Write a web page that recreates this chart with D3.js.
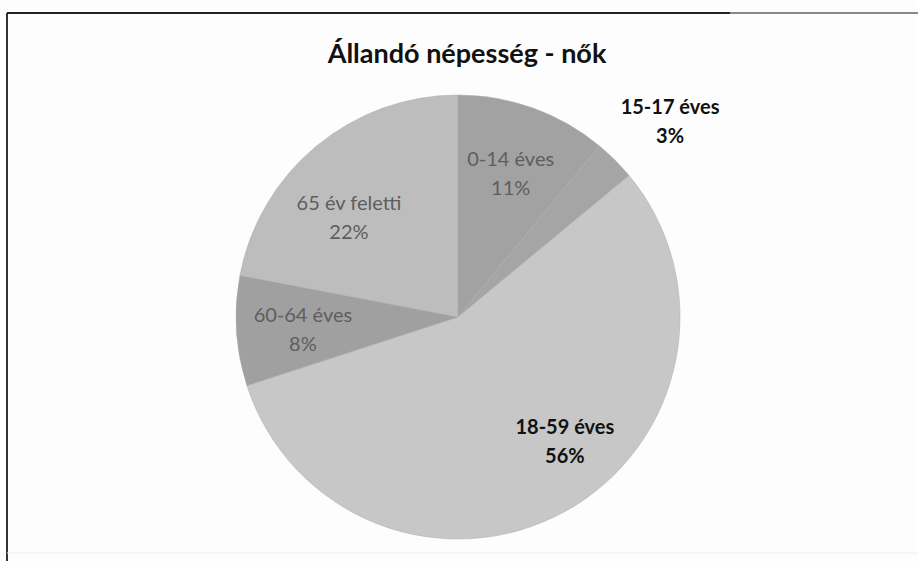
<!DOCTYPE html>
<html>
<head>
<meta charset="utf-8">
<script src="https://cdn.jsdelivr.net/npm/d3@7"></script>
<style>
  body { margin: 0; background: #fdfdfd; }
  svg { display: block; }
</style>
</head>
<body>
<div id="chart"></div>
<script>
/** chart data **/
var categories = ["0-14 éves", "15-17 éves", "18-59 éves", "60-64 éves", "65 év feletti"];
var values = [11, 3, 56, 8, 22];
var title = "Állandó népesség - nők";

/** look **/
var width = 918,
    height = 561,
    cx = 458,
    cy = 317,
    radius = 222;

var sliceColors = ["#a2a2a2", "#a5a5a5", "#c7c7c7", "#a0a0a0", "#bdbdbd"];
var textColors = ["#5e5e5e", "#111", "#111", "#5e5e5e", "#5e5e5e"];
// which labels sit outside the pie
var outside = [false, true, false, false, false];
// small hand nudges, like excel "best fit" does
var nudge = {
    "15-17 éves": [8, 6],
    "18-59 éves": [32, -14],
    "65 év feletti": [-10, 18]
};

var svg = d3.select("#chart").append("svg")
    .attr("width", width)
    .attr("height", height);

// scanned frame: left and top edge
svg.append("line")
    .attr("x1", 7).attr("y1", 13).attr("x2", 7).attr("y2", height)
    .style("stroke", "#333").style("stroke-width", 2);
svg.append("line")
    .attr("x1", 7).attr("y1", 13).attr("x2", 730).attr("y2", 13)
    .style("stroke", "#222").style("stroke-width", 2);
svg.append("line")
    .attr("x1", 730).attr("y1", 13).attr("x2", width).attr("y2", 13)
    .style("stroke", "#888").style("stroke-width", 2);
svg.append("line")
    .attr("x1", 7).attr("y1", 553).attr("x2", width).attr("y2", 553)
    .style("stroke", "#eee").style("stroke-width", 1);

svg.append("text")
    .attr("x", 467)
    .attr("y", 63)
    .attr("text-anchor", "middle")
    .style("font-family", "Lato, 'Open Sans', sans-serif")
    .style("font-weight", "bold")
    .style("font-size", "27px")
    .style("fill", "#111")
    .text(title);

var color = d3.scaleOrdinal().domain(categories).range(sliceColors);

var pie = d3.pie().sort(null).value(function(d) { return d.value; });
var data = categories.map(function(c, i) {
    return { name: c, value: values[i], i: i };
});
var arcs = pie(data);

var arc = d3.arc().innerRadius(0).outerRadius(radius);
var labelArc = d3.arc().innerRadius(radius * 0.7).outerRadius(radius * 0.7);
var outerArc = d3.arc().innerRadius(radius * 1.3).outerRadius(radius * 1.3);

var g = svg.append("g").attr("transform", "translate(" + cx + "," + cy + ")");

g.selectAll(".slice")
    .data(arcs)
    .enter().append("path")
    .attr("class", "slice")
    .attr("d", arc)
    .style("fill", function(d) { return color(d.data.name); })
    .style("stroke", "#ababab")
    .style("stroke-width", 0.5);

var labels = g.selectAll(".label")
    .data(arcs)
    .enter().append("text")
    .attr("class", "label")
    .attr("text-anchor", "middle")
    .attr("transform", function(d) {
        var p = outside[d.data.i] ? outerArc.centroid(d) : labelArc.centroid(d);
        var n = nudge[d.data.name] || [0, 0];
        return "translate(" + (p[0] + n[0]) + "," + (p[1] + n[1]) + ")";
    })
    .style("font-family", "Lato, 'Open Sans', sans-serif")
    .style("font-size", "20px")
    .style("font-weight", function(d) { return textColors[d.data.i] == "#111" ? "bold" : "normal"; })
    .style("fill", function(d) { return textColors[d.data.i]; });

labels.append("tspan")
    .attr("x", 0)
    .attr("y", -5)
    .text(function(d) { return d.data.name; });
labels.append("tspan")
    .attr("x", 0)
    .attr("y", 24)
    .text(function(d) { return d.data.value + "%"; });
</script>
</body>
</html>
